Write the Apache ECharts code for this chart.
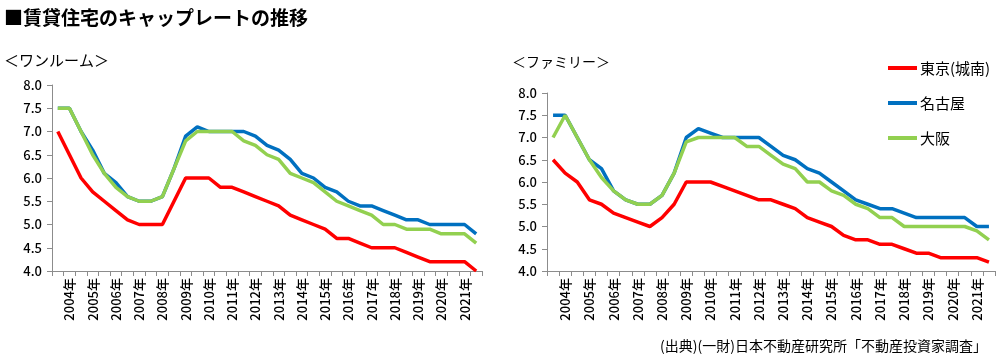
<!DOCTYPE html>
<html>
<head>
<meta charset="utf-8">
<script src="https://cdn.jsdelivr.net/npm/echarts@6/dist/echarts.min.js"></script>
<style>
html,body{margin:0;padding:0;background:#fff;}
#c{width:1000px;height:362px;}
</style>
</head>
<body>
<div id="c"></div>
<script>
// Survey periods (April / October), label shown on April entries
const periods = [
  '2003年10月',
  '2004年4月','2004年10月','2005年4月','2005年10月','2006年4月','2006年10月',
  '2007年4月','2007年10月','2008年4月','2008年10月','2009年4月','2009年10月',
  '2010年4月','2010年10月','2011年4月','2011年10月','2012年4月','2012年10月',
  '2013年4月','2013年10月','2014年4月','2014年10月','2015年4月','2015年10月',
  '2016年4月','2016年10月','2017年4月','2017年10月','2018年4月','2018年10月',
  '2019年4月','2019年10月','2020年4月','2020年10月','2021年4月','2021年10月'
];
const seriesNames = ['東京(城南)', '名古屋', '大阪'];
const panelTitles = ['＜ワンルーム＞', '＜ファミリー＞'];

// ワンルーム
const oneRoomTokyo  = [7.0,6.5,6.0,5.7,5.5,5.3,5.1,5.0,5.0,5.0,5.5,6.0,6.0,6.0,5.8,5.8,5.7,5.6,5.5,5.4,5.2,5.1,5.0,4.9,4.7,4.7,4.6,4.5,4.5,4.5,4.4,4.3,4.2,4.2,4.2,4.2,4.0];
const oneRoomNagoya = [7.5,7.5,7.0,6.6,6.1,5.9,5.6,5.5,5.5,5.6,6.2,6.9,7.1,7.0,7.0,7.0,7.0,6.9,6.7,6.6,6.4,6.1,6.0,5.8,5.7,5.5,5.4,5.4,5.3,5.2,5.1,5.1,5.0,5.0,5.0,5.0,4.8];
const oneRoomOsaka  = [7.5,7.5,7.0,6.5,6.1,5.8,5.6,5.5,5.5,5.6,6.2,6.8,7.0,7.0,7.0,7.0,6.8,6.7,6.5,6.4,6.1,6.0,5.9,5.7,5.5,5.4,5.3,5.2,5.0,5.0,4.9,4.9,4.9,4.8,4.8,4.8,4.6];
// ファミリー
const familyTokyo   = [6.5,6.2,6.0,5.6,5.5,5.3,5.2,5.1,5.0,5.2,5.5,6.0,6.0,6.0,5.9,5.8,5.7,5.6,5.6,5.5,5.4,5.2,5.1,5.0,4.8,4.7,4.7,4.6,4.6,4.5,4.4,4.4,4.3,4.3,4.3,4.3,4.2];
const familyNagoya  = [7.5,7.5,7.0,6.5,6.3,5.8,5.6,5.5,5.5,5.7,6.2,7.0,7.2,7.1,7.0,7.0,7.0,7.0,6.8,6.6,6.5,6.3,6.2,6.0,5.8,5.6,5.5,5.4,5.4,5.3,5.2,5.2,5.2,5.2,5.2,5.0,5.0];
const familyOsaka   = [7.0,7.5,7.0,6.5,6.1,5.8,5.6,5.5,5.5,5.7,6.2,6.9,7.0,7.0,7.0,7.0,6.8,6.8,6.6,6.4,6.3,6.0,6.0,5.8,5.7,5.5,5.4,5.2,5.2,5.0,5.0,5.0,5.0,5.0,5.0,4.9,4.7];

const colors = ['#FF0000', '#0070C0', '#92D050'];
const FONT = '"Noto Sans CJK JP", "Noto Sans", sans-serif';
const axisGray = '#8c8c8c';

function xAxis(gridIndex) {
  return {
    type: 'category', gridIndex, data: periods, boundaryGap: true,
    axisLine: { lineStyle: { color: axisGray, width: 1 } },
    axisTick: { show: true, interval: 0, length: 5, lineStyle: { color: axisGray } },
    axisLabel: {
      rotate: 90, margin: 7, color: '#000', fontSize: 13, fontWeight: 500, fontFamily: FONT,
      interval: (idx) => idx % 2 === 1,
      formatter: (v) => v.split('年')[0] + '年'
    },
    splitLine: { show: false }
  };
}
function yAxis(gridIndex) {
  return {
    type: 'value', gridIndex, min: 4, max: 8, interval: 0.5,
    axisLine: { show: true, lineStyle: { color: axisGray, width: 1 } },
    axisTick: { show: true, length: 5, lineStyle: { color: axisGray } },
    axisLabel: { color: '#000', fontSize: 13, fontWeight: 500, fontFamily: FONT, margin: 10,
      formatter: (v) => v.toFixed(1) },
    splitLine: { show: false }
  };
}
function line(name, data, i, gridIdx) {
  return {
    name, type: 'line', data, xAxisIndex: gridIdx, yAxisIndex: gridIdx,
    symbol: 'none', smooth: false, animation: false,
    lineStyle: { color: colors[i], width: 3.5 }, itemStyle: { color: colors[i] }
  };
}

const chart = echarts.init(document.getElementById('c'), null, { renderer: 'canvas' });
chart.setOption({
  backgroundColor: '#fff',
  animation: false,
  grid: [
    { left: 52, right: 518, top: 85, bottom: 91 },
    { left: 547, right: 5, top: 93, bottom: 91 }
  ],
  xAxis: [xAxis(0), xAxis(1)],
  yAxis: [yAxis(0), yAxis(1)],
  legend: {
    orient: 'vertical', left: 883, top: 53, itemGap: 15,
    icon: 'rect', itemWidth: 29, itemHeight: 4,
    textStyle: { fontSize: 15, fontFamily: FONT, color: '#000', lineHeight: 20, padding: [0,0,0,-2] },
    data: seriesNames
  },
  graphic: [
    { type: 'text', left: 4, top: 8, style: { text: '■賃貸住宅のキャップレートの推移', fontSize: 19, fontWeight: 'bold', fontFamily: FONT, fill: '#000' } },
    { type: 'text', left: 4, top: 53, style: { text: panelTitles[0], fontSize: 15, fontFamily: FONT, fill: '#000' } },
    { type: 'text', left: 512, top: 55, style: { text: panelTitles[1], fontSize: 14, fontFamily: FONT, fill: '#000' } },
    { type: 'text', right: 13, top: 339, style: { text: '(出典)(一財)日本不動産研究所「不動産投資家調査」', fontSize: 14, fontFamily: FONT, fill: '#000' } }
  ],
  series: [
    line(seriesNames[0], oneRoomTokyo, 0, 0),
    line(seriesNames[1], oneRoomNagoya, 1, 0),
    line(seriesNames[2], oneRoomOsaka, 2, 0),
    line(seriesNames[0], familyTokyo, 0, 1),
    line(seriesNames[1], familyNagoya, 1, 1),
    line(seriesNames[2], familyOsaka, 2, 1)
  ]
});
</script>
</body>
</html>
